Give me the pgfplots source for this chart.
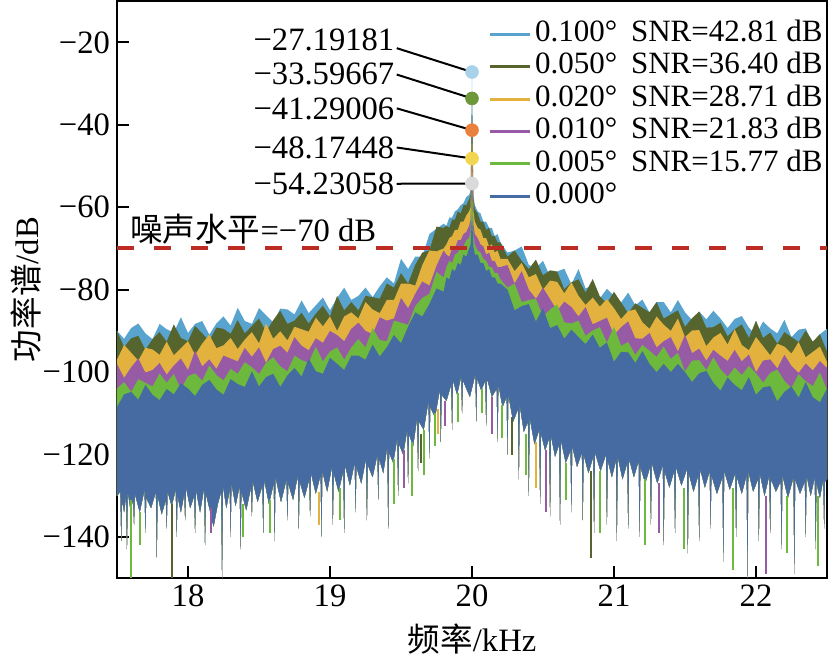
\documentclass[border=0pt]{standalone}
\usepackage{fontspec}
\setmainfont{Liberation Serif}
\newfontfamily\cjk{Noto Sans CJK SC}
\usepackage{pgfplots}
\pgfplotsset{compat=1.18}
\usepgfplotslibrary{fillbetween}
\usepackage{pgfplotstable}

\definecolor{lbc}{RGB}{88,164,206}
\definecolor{olc}{RGB}{86,101,46}
\definecolor{goc}{RGB}{227,178,62}
\definecolor{puc}{RGB}{151,91,166}
\definecolor{grc}{RGB}{108,185,62}
\definecolor{blc}{RGB}{70,106,162}
\definecolor{nzc}{RGB}{188,44,34}
\definecolor{mka}{RGB}{168,210,234}
\definecolor{mkb}{RGB}{108,152,58}
\definecolor{mkc}{RGB}{234,128,62}
\definecolor{mkd}{RGB}{242,214,82}
\definecolor{mke}{RGB}{218,218,218}
\newcommand{\fs}{\fontsize{16.3}{19}\selectfont}
\newcommand{\lfs}{\fontsize{15.5}{18}\selectfont}

\pgfplotstableread{
f lb ol go pu gr bl
17.50 -90 -90 -97 -98 -104 -108.5
17.55 -91.9 -93.9 -93.4 -101.4 -102.4 -105.4
17.60 -89.3 -91.8 -95.3 -98.8 -104.8 -104.8
17.65 -88.2 -91.2 -97.2 -96.7 -101.7 -106.7
17.70 -90.6 -94.6 -94.1 -100.1 -102.6 -103.1
17.75 -92 -92 -94.5 -99.5 -103.5 -105.5
17.80 -88.3 -90.3 -95.8 -97.8 -100.3 -106.8
17.85 -89.6 -92.6 -92.6 -100.6 -102.6 -104.1
17.90 -90.4 -88.4 -95.9 -98.4 -100.4 -105.4
17.95 -86.7 -91.7 -94.2 -96.7 -104.2 -102.7
18.00 -90.5 -92.5 -92.5 -99.5 -101 -104
18.05 -88.3 -88.8 -95.8 -94.8 -100.3 -105.8
18.10 -87.6 -90.6 -93.1 -98.6 -102.1 -103.1
18.15 -90.9 -92.4 -90.9 -96.9 -98.4 -101.9
18.20 -88.2 -89.2 -94.2 -99.2 -100.7 -104.2
18.25 -86.5 -89.5 -93.5 -96 -102 -105.5
18.30 -88.7 -90.7 -91.7 -96.7 -99.2 -101.7
18.35 -84.4 -87.4 -94.4 -97.4 -100.4 -102.9
18.40 -87.6 -90.6 -92.1 -94.1 -97.6 -103.6
18.45 -88.3 -88.8 -90.3 -96.3 -98.8 -99.8
18.50 -84.5 -87 -93 -94 -100.5 -103.5
18.55 -86.2 -90.2 -88.2 -97.7 -97.7 -101.2
18.60 -87.9 -87.4 -91.9 -94.4 -96.4 -100.4
18.65 -84.6 -85.1 -90.1 -93.6 -98.6 -103.6
18.70 -84.8 -88.3 -92.3 -95.3 -99.8 -100.8
18.75 -86 -87.5 -89 -91.5 -96 -99
18.80 -82.6 -85.6 -89.6 -93.6 -97.1 -101.1
18.85 -85.7 -88.2 -90.2 -94.7 -97.7 -96.7
18.90 -83.8 -85.8 -86.8 -91.8 -93.8 -99.8
18.95 -81.9 -83.9 -88.9 -92.9 -97.4 -100.4
19.00 -85 -86.5 -86.5 -90 -95 -96.5
19.05 -82 -81.5 -90 -91 -94 -98
19.10 -79.5 -85 -86.5 -92.5 -97 -99.5
19.15 -82.5 -83 -85.5 -89.5 -94 -96
19.20 -81.5 -85 -87 -88 -92 -96
19.25 -79.5 -81.5 -83 -90 -94 -97
19.30 -81.8 -81.8 -84.8 -90.8 -89.3 -93.3
19.35 -79.2 -82.2 -85.7 -86.7 -92.2 -96.2
19.40 -77 -78.5 -82.5 -87.5 -92.5 -94
19.45 -78.5 -79.5 -82.5 -87 -87.5 -91
19.50 -72.5 -76 -78.5 -82 -88 -93
19.55 -75 -78.5 -78.5 -84.5 -88.5 -89
19.60 -72 -74 -79 -81 -84 -85.5
19.65 -72 -71 -74 -78 -82 -86.5
19.70 -66.5 -70.5 -70.5 -79 -81 -83.5
19.75 -65.2 -64.7 -70.7 -74.2 -75.7 -79.7
19.80 -64 -65 -70 -70.5 -77 -80.5
19.82 -64.5 -64.5 -69 -71.5 -74.5 -77
19.84 -62.5 -65 -67.5 -72 -73 -77.5
19.86 -62.5 -63 -67 -70 -73.5 -75
19.88 -61 -63 -65.5 -70 -71.5 -75.5
19.90 -60.5 -61 -65.5 -68 -71 -73.5
19.92 -59.5 -61.5 -63.5 -68 -70 -74
19.94 -59 -59.5 -63.5 -66.5 -69.5 -71.5
19.96 -57.5 -59.5 -62 -66 -68 -72
19.98 -57 -58 -61 -64.5 -67.5 -70
19.99 -56 -57 -60 -63 -66 -69
20.00 -27.19181 -33.59667 -41.29006 -48.17448 -54.23058 -62
20.01 -57 -58 -61 -64 -67 -69.5
20.02 -59.5 -60.5 -63.5 -66.5 -69 -71.5
20.04 -61 -61.5 -65 -67.5 -70.5 -71.5
20.06 -61.5 -63.5 -65.5 -69 -71 -73.5
20.08 -63.5 -63.5 -67.5 -69.5 -72.5 -73.5
20.10 -63.5 -65.5 -67.5 -71.5 -73 -75.5
20.12 -65 -65 -69.5 -71 -74.5 -75
20.14 -65 -67 -69 -73 -74.5 -77
20.16 -67 -67 -71 -73 -76 -77
20.18 -66.5 -68.5 -70.5 -74.5 -76 -78.5
20.20 -68.5 -68.5 -72.5 -74.5 -77.5 -78.5
20.25 -71 -72 -72.5 -74 -79.5 -80
20.30 -70.5 -70.5 -75.5 -78.5 -78.5 -85
20.35 -69.5 -73 -73.5 -75.5 -83 -84
20.40 -74 -75 -77 -80 -82.5 -83.5
20.45 -74.7 -72.7 -76.2 -82.2 -82.2 -87.7
20.50 -73 -76.5 -80 -79.5 -86.5 -84.5
20.55 -76.8 -75.3 -77.8 -82.3 -84.8 -89.3
20.60 -75.6 -75.6 -78.1 -85.1 -83.6 -88.6
20.65 -74.9 -79.9 -80.9 -82.9 -87.9 -91.9
20.70 -78.7 -78.2 -78.2 -84.2 -88.2 -89.7
20.75 -75 -77.5 -81.5 -86.5 -87.5 -91.5
20.80 -79.7 -80.7 -83.7 -84.2 -91.2 -93.2
20.85 -78.9 -77.4 -81.9 -88.4 -89.9 -90.9
20.90 -82.1 -81.6 -84.1 -87.6 -89.1 -94.1
20.95 -79.8 -83.3 -82.3 -86.8 -92.8 -92.8
21.00 -81.5 -80.5 -84.5 -91 -89 -97.5
21.05 -83.1 -83.1 -87.1 -89.1 -93.6 -95.1
21.10 -80.7 -85.7 -85.2 -87.7 -92.7 -95.2
21.15 -83.8 -83.3 -84.8 -91.8 -95.8 -97.8
21.20 -82.4 -84.4 -87.9 -91.9 -93.4 -94.9
21.25 -85.5 -85.5 -89.5 -90.5 -94.8 -98
21.30 -83 -83 -86.5 -94 -96.3 -100
21.35 -83 -87 -88.5 -92.5 -93.8 -98
21.40 -85.5 -86 -90 -91.5 -96.8 -100
21.45 -82.5 -85 -87 -95 -95.3 -98
21.50 -85.5 -89 -91.5 -91 -99.8 -100
21.55 -87.4 -86.9 -89.9 -95.4 -97.2 -102.4
21.60 -85.3 -85.3 -89.8 -94.3 -97.1 -100.3
21.65 -87.2 -89.2 -93.7 -97.2 -99.5 -99.7
21.70 -85.1 -89.1 -91.6 -94.6 -96.4 -102.6
21.75 -87 -88 -90.5 -96 -99.3 -104.5
21.80 -89.3 -91.3 -93.3 -97.3 -101.1 -101.3
21.85 -87.1 -89.6 -89.6 -94.6 -98.9 -103.1
21.90 -86.4 -88.4 -93.4 -97.4 -100.7 -104.4
21.95 -89.2 -91.7 -94.7 -95.7 -98.5 -101.2
22.00 -91 -87.5 -91.5 -100 -100.3 -105.5
22.05 -87.7 -91.7 -93.7 -97.2 -102.5 -103.7
22.10 -89.4 -90.4 -95.9 -96.9 -100.2 -103.4
22.15 -90.6 -93.1 -93.1 -99.1 -99.4 -107.1
22.20 -87.3 -90.3 -93.8 -95.8 -102.1 -104.8
22.25 -91.5 -91.5 -95.5 -98.5 -103.8 -103.5
22.30 -89.7 -92.7 -92.7 -100.2 -100.5 -106.2
22.35 -89.4 -89.9 -96.4 -97.9 -102.2 -102.4
22.40 -93.1 -92.6 -95.1 -99.6 -103.4 -106.1
22.45 -90.8 -90.8 -93.8 -97.3 -100.1 -107.3
22.50 -89.5 -95 -97.5 -99 -104.3 -104
}\tops

\pgfplotstableread{
f y
17.500 -130
17.524 -129
17.530 -141
17.536 -131
17.550 -134
17.564 -130
17.570 -143
17.576 -129
17.595 -133.5
17.614 -131
17.620 -137
17.626 -129.5
17.660 -134
17.694 -128.5
17.700 -139
17.706 -130.5
17.740 -133
17.774 -129
17.780 -145
17.786 -130
17.815 -134.5
17.844 -131
17.850 -138
17.856 -129
17.885 -132.5
17.914 -128.5
17.920 -140
17.926 -130
17.950 -134
17.974 -129.5
17.980 -136
17.986 -128
18.015 -133
18.044 -130
18.050 -139
18.056 -128.5
18.085 -134
18.114 -128
18.120 -142
18.126 -129.5
18.150 -133
18.180 -137.5
18.210 -132
18.234 -129
18.240 -150
18.246 -127.5
18.270 -133
18.294 -128.5
18.300 -140
18.306 -127
18.335 -132.5
18.364 -127.5
18.370 -143
18.376 -129
18.410 -133.5
18.444 -128
18.450 -135
18.456 -126.5
18.490 -131.5
18.524 -127.5
18.530 -139
18.536 -126
18.570 -132
18.604 -127
18.610 -141
18.616 -125.5
18.655 -131.5
18.694 -126
18.700 -136
18.706 -127
18.740 -131
18.774 -125
18.780 -138
18.786 -126.5
18.820 -130.5
18.854 -126
18.860 -135
18.866 -124.5
18.900 -129.5
18.934 -125
18.940 -140
18.946 -124
18.980 -129
19.014 -123
19.020 -137
19.026 -124.5
19.060 -129
19.094 -124
19.100 -139
19.106 -122.5
19.140 -127.5
19.174 -122
19.180 -134
19.186 -123
19.220 -127
19.254 -121
19.260 -136
19.266 -122.5
19.300 -125.5
19.334 -120
19.340 -131
19.346 -121
19.375 -124.5
19.404 -118
19.410 -138
19.416 -119.5
19.445 -122
19.474 -116
19.480 -130
19.486 -117.5
19.515 -120
19.544 -114
19.550 -127
19.556 -115
19.585 -118
19.614 -111
19.620 -124
19.626 -112
19.660 -114
19.694 -107
19.700 -121
19.706 -108.5
19.740 -111
19.774 -104
19.780 -117
19.786 -105.5
19.820 -107
19.854 -103
19.860 -114
19.866 -102
19.895 -105.5
19.924 -101
19.930 -110
19.936 -102
19.960 -104
19.985 -106
20.024 -100.5
20.030 -112
20.036 -101.5
20.065 -104.5
20.094 -102
20.100 -113
20.106 -101.5
20.140 -106
20.174 -104
20.180 -117
20.186 -103
20.215 -108.5
20.244 -106
20.250 -120
20.256 -105.5
20.290 -112
20.324 -109
20.330 -126
20.336 -108
20.365 -114.5
20.394 -112
20.400 -130
20.406 -111
20.440 -117.5
20.474 -114
20.480 -132
20.486 -115
20.515 -119
20.544 -116
20.550 -135
20.556 -115.5
20.585 -120.5
20.614 -117.5
20.620 -137
20.626 -116.5
20.660 -122
20.694 -119
20.700 -134
20.706 -118
20.740 -123
20.774 -119.5
20.780 -136
20.786 -120
20.820 -124.5
20.854 -120.5
20.860 -139
20.866 -119.5
20.905 -124
20.944 -120
20.950 -137
20.956 -121.5
20.985 -125.5
21.014 -121.5
21.020 -141
21.026 -120.5
21.060 -126
21.094 -122
21.100 -138
21.106 -121
21.140 -125.5
21.174 -121.5
21.180 -140
21.186 -123
21.220 -127
21.254 -123
21.260 -137
21.266 -122
21.305 -127
21.344 -122.5
21.350 -142
21.356 -124
21.390 -128
21.424 -124
21.430 -139
21.436 -123
21.475 -127.5
21.514 -123.5
21.520 -144
21.526 -124.5
21.560 -129
21.594 -125
21.600 -141
21.606 -123.5
21.640 -128
21.674 -124
21.680 -138
21.686 -125
21.725 -129.5
21.764 -125.5
21.770 -146
21.776 -124
21.815 -128.5
21.854 -124.5
21.860 -140
21.866 -125.5
21.900 -129.5
21.934 -125
21.940 -150
21.946 -124
21.980 -129
22.014 -126
22.020 -141
22.026 -124.5
22.060 -130
22.094 -125
22.100 -139
22.106 -126
22.140 -129
22.174 -126.5
22.180 -143
22.186 -125
22.225 -130.5
22.264 -125.5
22.270 -149
22.276 -126
22.310 -129.5
22.344 -126.5
22.350 -140
22.356 -125
22.385 -130
22.414 -125.5
22.420 -143
22.426 -127
22.450 -130.5
22.474 -126
22.480 -138
22.486 -126.5
22.500 -126
}\bottom

\begin{document}
\begin{tikzpicture}
\begin{axis}[
  name=ax,
  scale only axis,
  width=355pt, height=288.5pt,
  xmin=17.5, xmax=22.5, ymin=-150, ymax=-10,
  xtick={18,19,20,21,22},
  ytick={-140,-120,-100,-80,-60,-40,-20},
  yticklabels={−140,−120,−100,−80,−60,−40,−20},
  tick align=inside,
  xtick pos=bottom, ytick pos=left,
  major tick length=6pt,
  tick style={line width=1pt, black},
  axis line style={line width=1.2pt},
  /pgf/number format/assume math mode=true,
  every tick label/.append style={font=\fs},
  label style={font=\fs},
  xlabel={{\cjk 频率}/kHz},
  ylabel={{\cjk 功率谱}/dB},
  xlabel shift=1.5pt,
  ylabel shift=-6pt,
  legend cell align=left,
  legend image code/.code={\draw[#1, line width=1.5pt] (0pt,0pt) -- (20pt,0pt);},
  legend style={at={(1,1)}, anchor=north east, xshift=-2pt, yshift=-8.5pt,
    draw=none, fill=none, inner xsep=0pt, inner ysep=0pt, font=\lfs,
    row sep=0.5pt,
    nodes={inner sep=0pt, text height=11.5pt, text depth=4.2pt},
    /tikz/every odd column/.append style={column sep=2pt}},
]
\addlegendimage{lbc}\addlegendentry{\makebox[48pt][l]{0.100°}SNR=42.81 dB}
\addlegendimage{olc}\addlegendentry{\makebox[48pt][l]{0.050°}SNR=36.40 dB}
\addlegendimage{goc}\addlegendentry{\makebox[48pt][l]{0.020°}SNR=28.71 dB}
\addlegendimage{puc}\addlegendentry{\makebox[48pt][l]{0.010°}SNR=21.83 dB}
\addlegendimage{grc}\addlegendentry{\makebox[48pt][l]{0.005°}SNR=15.77 dB}
\addlegendimage{blc}\addlegendentry{0.000°}

\addplot[name path=bot, draw=none, forget plot] table[x=f, y=y]{\bottom};
\addplot[name path=tlb, draw=none, forget plot] table[x=f, y=lb]{\tops};
\addplot[name path=tol, draw=none, forget plot] table[x=f, y=ol]{\tops};
\addplot[name path=tgo, draw=none, forget plot] table[x=f, y=go]{\tops};
\addplot[name path=tpu, draw=none, forget plot] table[x=f, y=pu]{\tops};
\addplot[name path=tgr, draw=none, forget plot] table[x=f, y=gr]{\tops};
\addplot[name path=tbl, draw=none, forget plot] table[x=f, y=bl]{\tops};
\addplot[fill=lbc, draw=none, forget plot] fill between[of=tlb and bot];
\addplot[fill=olc, draw=none, forget plot] fill between[of=tol and bot];
\addplot[fill=goc, draw=none, forget plot] fill between[of=tgo and bot];
\addplot[fill=puc, draw=none, forget plot] fill between[of=tpu and bot];
\addplot[fill=grc, draw=none, forget plot] fill between[of=tgr and bot];
\addplot[fill=blc, draw=none, forget plot] fill between[of=tbl and bot];

% spikes of the other series below the blue band
\addplot[forget plot, draw=none, mark=none, error bars/.cd, y dir=minus, y explicit, error mark=none, error bar style={solid, draw=grc, line width=1pt}] coordinates {
(17.60,-131) -= (0,19) (17.66,-134) -= (0,8) (18.39,-132) -= (0,8) (18.58,-131) -= (0,8)
(19.07,-128) -= (0,8) (19.45,-121) -= (0,11) (19.58,-117) -= (0,13) (19.66,-114) -= (0,11)
(19.74,-110) -= (0,8) (19.90,-105) -= (0,7) (20.07,-104) -= (0,6) (20.21,-108) -= (0,8)
(20.38,-115) -= (0,10) (20.66,-122) -= (0,9) (20.90,-124) -= (0,15) (21.22,-126) -= (0,16)
(21.49,-128) -= (0,15) (21.84,-128) -= (0,20) (22.22,-130) -= (0,14) (22.44,-130) -= (0,17)
};
\addplot[forget plot, draw=none, mark=none, error bars/.cd, y dir=minus, y explicit, error mark=none, error bar style={solid, draw=puc, line width=1pt}] coordinates {
(18.16,-133) -= (0,6) (19.52,-119) -= (0,9) (19.81,-107) -= (0,6) (20.14,-106) -= (0,9)
(20.52,-119) -= (0,15) (21.32,-127) -= (0,12) (22.07,-130) -= (0,19)
};
\addplot[forget plot, draw=none, mark=none, error bars/.cd, y dir=minus, y explicit, error mark=none, error bar style={solid, draw=olc, line width=1pt}] coordinates {
(17.89,-132) -= (0,18) (19.64,-115) -= (0,7) (20.28,-111) -= (0,9) (20.84,-124) -= (0,21)
};
\addplot[forget plot, draw=none, mark=none, error bars/.cd, y dir=minus, y explicit, error mark=none, error bar style={solid, draw=goc, line width=1pt}] coordinates {
(18.92,-129) -= (0,8) (19.76,-109) -= (0,6) (20.45,-117) -= (0,11)
};

% noise level
\addplot[forget plot, nzc, line width=2pt, dash pattern=on 8.5pt off 10pt] coordinates {(17.5,-70) (22.5,-70)};
\node[anchor=west, font=\fs, inner sep=0pt] at (axis cs:17.59,-65.3) {{\cjk 噪声水平}=−70 dB};

% peak annotations
\draw[line width=1pt, shorten >=3pt] (axis cs:19.47,-21.4) -- (axis cs:20,-27.19181);
\draw[line width=1pt, shorten >=3pt] (axis cs:19.47,-27.8) -- (axis cs:20,-33.59667);
\draw[line width=1pt, shorten >=3pt] (axis cs:19.47,-36.0) -- (axis cs:20,-41.29006);
\draw[line width=1pt, shorten >=3pt] (axis cs:19.47,-45.5) -- (axis cs:20,-48.17448);
\draw[line width=1pt, shorten >=3pt] (axis cs:19.47,-54.3) -- (axis cs:20,-54.23058);
\node[anchor=east, font=\fs, inner sep=0pt] at (axis cs:19.455,-19.3) {−27.19181};
\node[anchor=east, font=\fs, inner sep=0pt] at (axis cs:19.455,-27.7) {−33.59667};
\node[anchor=east, font=\fs, inner sep=0pt] at (axis cs:19.455,-36.2) {−41.29006};
\node[anchor=east, font=\fs, inner sep=0pt] at (axis cs:19.455,-45.5) {−48.17448};
\node[anchor=east, font=\fs, inner sep=0pt] at (axis cs:19.455,-54.3) {−54.23058};
\addplot[forget plot, only marks, mark=*, mark size=3.2pt, mark options={fill=mka, draw=mka}] coordinates {(20,-27.19181)};
\addplot[forget plot, only marks, mark=*, mark size=3.2pt, mark options={fill=mkb, draw=mkb}] coordinates {(20,-33.59667)};
\addplot[forget plot, only marks, mark=*, mark size=3.2pt, mark options={fill=mkc, draw=mkc}] coordinates {(20,-41.29006)};
\addplot[forget plot, only marks, mark=*, mark size=3.2pt, mark options={fill=mkd, draw=mkd}] coordinates {(20,-48.17448)};
\addplot[forget plot, only marks, mark=*, mark size=3.2pt, mark options={fill=mke, draw=mke}] coordinates {(20,-54.23058)};
\end{axis}
\pgfresetboundingbox
\useasboundingbox ([xshift=-58.5pt,yshift=-44.5pt]ax.south west) rectangle ([xshift=1pt,yshift=0.6pt]ax.north east);
\end{tikzpicture}
\end{document}
